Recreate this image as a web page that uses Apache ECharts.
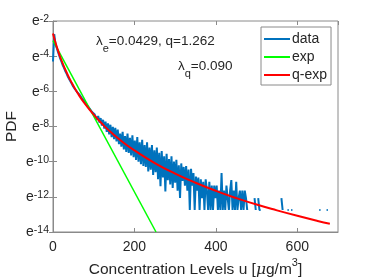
<!DOCTYPE html>
<html><head><meta charset="utf-8">
<script src="https://cdn.jsdelivr.net/npm/echarts@6/dist/echarts.min.js"></script>
<style>html,body{margin:0;padding:0;background:#fff}#c{width:374px;height:280px}</style>
</head><body><div id="c"></div>
<script>
// bin width of the histogram (u in µg/m³)
var binWidth = 3;
// ln(PDF) of the data, one value per bin starting at u = 0
var dataLnPdf = [
-4.30,-2.75,-3.30,-3.52,-3.74,-3.95,-4.16,-4.33,-4.52,-4.67,
-4.84,-4.98,-5.14,-5.27,-5.40,-5.52,-5.66,-5.76,-5.88,-5.97,
-6.06,-6.14,-6.22,-6.30,-6.42,-6.48,-6.60,-6.66,-6.80,-6.84,
-6.98,-7.02,-7.18,-7.20,-7.30,-7.32,-7.62,-7.40,-7.78,-7.52,
-7.95,-7.62,-8.12,-7.72,-8.30,-7.82,-8.45,-7.90,-8.60,-8.02,
-8.72,-8.08,-8.85,-8.18,-9.00,-8.40,-9.15,-8.30,-9.30,-8.55,
-9.45,-8.40,-9.50,-8.65,-9.65,-8.50,-9.75,-8.80,-9.90,-8.60,
-10.00,-8.90,-10.15,-8.75,-10.25,-9.05,-10.30,-8.90,-10.55,-9.20,
-10.45,-9.05,-10.75,-9.35,-10.60,-9.20,-11.00,-9.50,-11.40,-9.40,
-10.90,-9.70,-11.70,-9.55,-11.05,-9.85,-11.30,-9.70,-11.50,-10.00,
-11.20,-9.90,-11.65,-10.20,-12.07,-10.10,-11.10,-10.30,-11.36,-10.25,
-11.65,-10.45,-12.75,-10.40,-11.36,-10.65,-12.75,-10.85,-11.65,-10.90,
-12.75,-11.00,-12.07,-11.14,-12.75,-11.00,-11.65,-12.75,-11.14,-12.75,
-11.36,-12.75,-11.36,-12.07,-11.36,-12.75,-11.65,-12.75,-10.65,-12.75,
-11.65,-12.75,-11.36,-12.07,-12.75,-11.65,-11.05,-12.75,-11.65,-12.75,
-11.14,-12.75,-12.07,-11.65,-12.75,-11.65,-12.75,-11.65,-12.07,-12.75
];
// sparse tail of the data: [u, ln(PDF)], '-' marks a gap
var dataTail = [
[480,'-'],[495,-12.07],[498,-12.75],[501,'-'],[504,-12.07],[507,-12.75],[510,-12.75],
[513,'-'],[561,-12.07],[564,-12.75],[567,'-'],[576,-12.75],[579,-12.75],[582,'-'],
[585,-12.75],[588,-12.75],[591,'-'],[654,-12.75],[657,-12.75],[660,'-'],
[672,-12.75],[675,-12.75]
];
// exponential fit (straight line in ln scale)
var expLine = [[0,-3.12],[253,-14.0]];
// q-exponential fit
var qexpLine = [[0,-2.71],[5,-3.14],[10,-3.52],[15,-3.87],[20,-4.19],[30,-4.75],[40,-5.25],
[50,-5.68],[60,-6.08],[75,-6.60],[100,-7.33],[125,-7.95],[150,-8.48],[175,-8.95],[200,-9.36],
[250,-10.08],[300,-10.68],[350,-11.20],[400,-11.66],[450,-12.07],[500,-12.44],[550,-12.77],
[600,-13.08],[650,-13.37],[680,-13.53]];
var xTicks = [0,200,400,600];
var yTicks = [-14,-12,-10,-8,-6,-4,-2];

var dataSeries = dataLnPdf.map(function(v,i){return [i*binWidth, v];}).concat(dataTail);

var FONT = 'Liberation Sans, Arial, Helvetica, sans-serif';
var axisGray = '#8a8a8a';
var txt = '#262626';
var chart = echarts.init(document.getElementById('c'));
chart.setOption({
  animation:false,
  textStyle:{fontFamily:FONT},
  grid:{left:53,right:36,top:21,bottom:48,show:true,borderColor:axisGray,borderWidth:1,
        containLabel:false,outerBoundsMode:'none'},
  legend:{
    data:['data','exp','q-exp'], orient:'vertical', left:261, top:27,
    icon:'rect', itemWidth:26, itemHeight:2, itemGap:4,
    backgroundColor:'#fff', borderColor:axisGray, borderWidth:1, padding:[5,4,3,3],
    textStyle:{fontFamily:FONT,fontSize:14,color:txt,padding:[0,0,0,-3]}
  },
  xAxis:[{
    type:'value', min:0, max:700, interval:200,
    axisLine:{lineStyle:{color:axisGray}}, axisTick:{inside:true,length:4,lineStyle:{color:axisGray}},
    splitLine:{show:false},
    axisLabel:{color:txt,fontSize:14,margin:8,showMaxLabel:false,fontFamily:FONT},
    name:'{n|Concentration Levels u [}{m|μ}{n|g/m}{s|3}{n|]}', nameLocation:'middle', nameGap:25,
    nameMoveOverlap:false,
    nameTextStyle:{rich:{
      n:{fontSize:15.5,color:txt,fontFamily:FONT,lineHeight:21,verticalAlign:'bottom'},
      m:{fontSize:15.5,color:txt,fontFamily:'DejaVu Serif, serif',fontStyle:'italic',lineHeight:21,verticalAlign:'bottom'},
      s:{fontSize:11,color:txt,fontFamily:FONT,lineHeight:12,verticalAlign:'top'}
    }}
  },{
    type:'value', position:'top', min:0, max:700, interval:200,
    axisLine:{show:false}, axisTick:{inside:true,length:4,lineStyle:{color:axisGray}},
    axisLabel:{show:false}, splitLine:{show:false}
  }],
  yAxis:[{
    type:'value', min:-14, max:-2, interval:2,
    axisLine:{show:true,lineStyle:{color:axisGray}}, axisTick:{show:true,inside:true,length:4,lineStyle:{color:axisGray}},
    splitLine:{show:false},
    axisLabel:{margin:4,formatter:function(v){return '{e|e}{s|'+v+'}';},
      rich:{e:{fontSize:14,color:txt,fontFamily:FONT,lineHeight:15,verticalAlign:'bottom',padding:[6,0,0,0]},
            s:{fontSize:10.5,color:txt,fontFamily:FONT,lineHeight:10,verticalAlign:'top'}}},
    name:'PDF', nameLocation:'middle', nameGap:33, nameMoveOverlap:false,
    nameTextStyle:{fontSize:15.5,color:txt,fontFamily:FONT}
  },{
    type:'value', position:'right', min:-14, max:-2, interval:2,
    axisLine:{show:false}, axisTick:{show:true,inside:true,length:4,lineStyle:{color:axisGray}},
    axisLabel:{show:false}, splitLine:{show:false}
  }],
  graphic:[
    {type:'text', left:96, top:34, style:{
      text:'{t|λ}{b|e}{t|=0.0429, q=1.262}', fontFamily:FONT,
      rich:{t:{fontSize:13.5,fill:txt,fontFamily:FONT,lineHeight:16,verticalAlign:'top'},
            b:{fontSize:11,fill:txt,fontFamily:FONT,lineHeight:10,verticalAlign:'bottom',padding:[0,0,-4,0]}}}},
    {type:'text', left:178, top:59, style:{
      text:'{t|λ}{b|q}{t|=0.090}', fontFamily:FONT,
      rich:{t:{fontSize:13.5,fill:txt,fontFamily:FONT,lineHeight:16,verticalAlign:'top'},
            b:{fontSize:11,fill:txt,fontFamily:FONT,lineHeight:10,verticalAlign:'bottom',padding:[0,0,-4,0]}}}}
  ],
  series:[
    {name:'data', type:'line', data:dataSeries, showSymbol:false, symbol:'none', connectNulls:false,
     lineStyle:{color:'#0072BD',width:2}, itemStyle:{color:'#0072BD'}},
    {name:'exp', type:'line', data:expLine, showSymbol:false, symbol:'none',
     lineStyle:{color:'#00FF00',width:1.5}, itemStyle:{color:'#00FF00'}},
    {name:'q-exp', type:'line', data:qexpLine, smooth:true, showSymbol:false, symbol:'none',
     lineStyle:{color:'#FF0000',width:2}, itemStyle:{color:'#FF0000'}}
  ]
});
</script></body></html>
